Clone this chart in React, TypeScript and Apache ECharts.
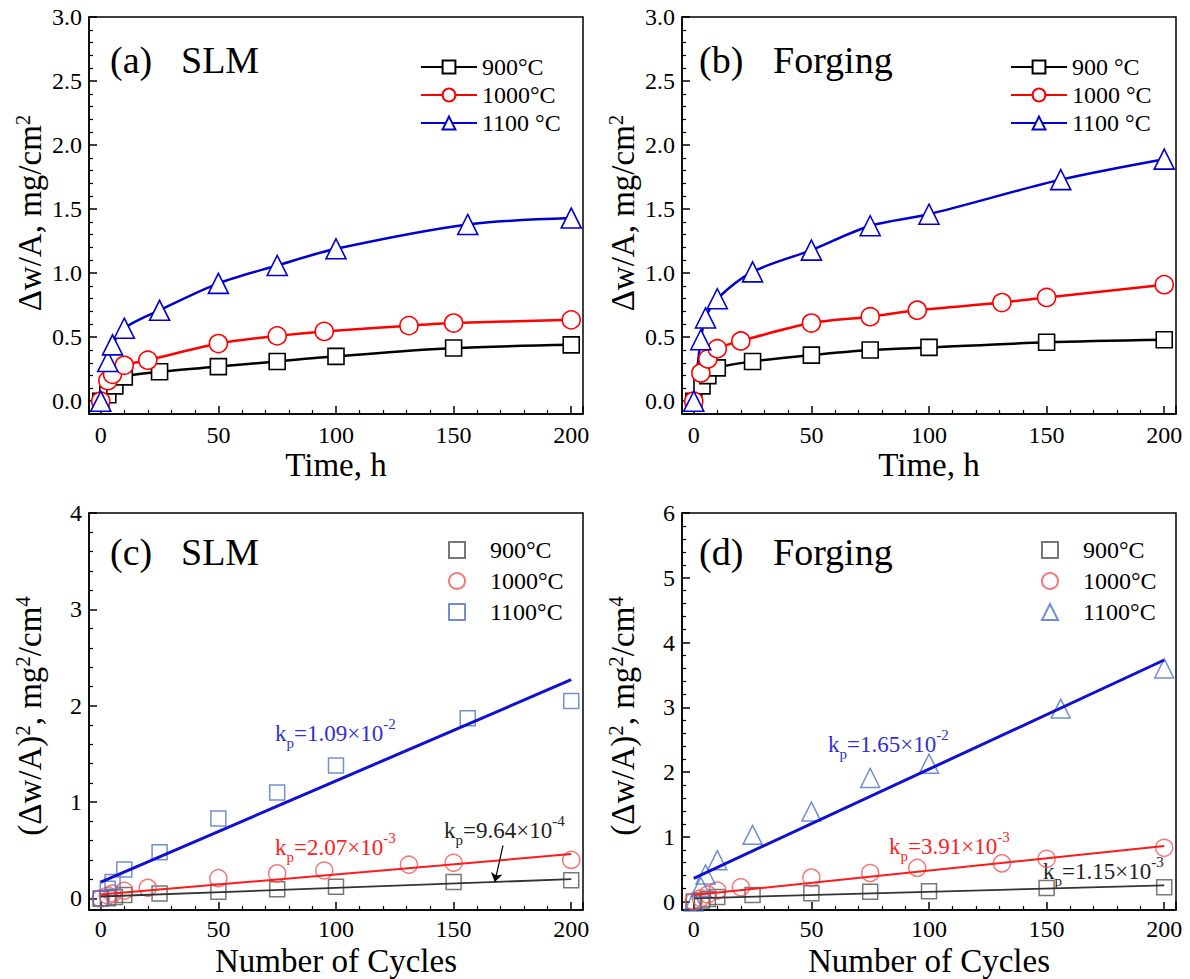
import React, { useEffect, useRef } from 'react';
import * as echarts from 'echarts';

const FONT = 'Liberation Serif, Times New Roman, serif';

// ---------- Panel (a): SLM, isothermal oxidation ----------
const a900T = [0, 3, 6, 10, 25, 50, 75, 100, 150, 200];
const a900V = [0, 0.05, 0.12, 0.19, 0.23, 0.27, 0.31, 0.35, 0.415, 0.44];
const a1000T = [0, 3, 5, 10, 20, 50, 75, 95, 131, 150, 200];
const a1000V = [0, 0.16, 0.21, 0.28, 0.32, 0.45, 0.51, 0.545, 0.59, 0.61, 0.635];
const a1100T = [0, 3, 5, 10, 25, 50, 75, 100, 156, 200];
const a1100V = [0, 0.31, 0.44, 0.57, 0.71, 0.92, 1.06, 1.19, 1.38, 1.43];

// ---------- Panel (b): Forging, isothermal oxidation ----------
const b900T = [0, 3.5, 6, 10, 25, 50, 75, 100, 150, 200];
const b900V = [0, 0.12, 0.2, 0.26, 0.31, 0.36, 0.4, 0.42, 0.46, 0.48];
const b1000T = [0, 3, 6, 10, 20, 50, 75, 95, 131, 150, 200];
const b1000V = [0, 0.22, 0.33, 0.41, 0.47, 0.61, 0.66, 0.71, 0.77, 0.81, 0.91];
const b1100T = [0, 3, 5, 10, 25, 50, 75, 100, 156, 200];
const b1100V = [0, 0.48, 0.65, 0.8, 1.01, 1.18, 1.37, 1.46, 1.73, 1.89];

// ---------- Panel (c): SLM, parabolic plot ----------
const c900T = [0, 3, 6, 10, 25, 50, 75, 100, 150, 200];
const c900V = [0, 0.003, 0.015, 0.035, 0.05, 0.07, 0.095, 0.12, 0.17, 0.19];
const c1000T = [0, 3, 5, 10, 20, 50, 75, 95, 131, 150, 200];
const c1000V = [0, 0.03, 0.05, 0.08, 0.11, 0.21, 0.26, 0.29, 0.35, 0.37, 0.4];
const c1100T = [0, 3, 5, 10, 25, 50, 75, 100, 156, 200];
const c1100V = [0, 0.1, 0.17, 0.3, 0.48, 0.83, 1.1, 1.38, 1.87, 2.05];
const cFitX = [0, 200];
const cFit900 = [0.02, 0.2];
const cFit1000 = [0.04, 0.46];
const cFit1100 = [0.17, 2.27];
const cArrowX = [171, 167.5];
const cArrowY = [0.55, 0.17];

// ---------- Panel (d): Forging, parabolic plot ----------
const d900T = [0, 3.5, 6, 10, 25, 50, 75, 100, 150, 200];
const d900V = [0, 0.015, 0.04, 0.07, 0.1, 0.13, 0.15, 0.16, 0.21, 0.22];
const d1000T = [0, 3, 6, 10, 20, 50, 75, 95, 131, 150, 200];
const d1000V = [0, 0.05, 0.11, 0.17, 0.22, 0.37, 0.44, 0.52, 0.59, 0.66, 0.83];
const d1100T = [0, 3, 5, 10, 25, 50, 75, 100, 156, 200];
const d1100V = [0, 0.23, 0.42, 0.64, 1.03, 1.39, 1.91, 2.13, 2.98, 3.6];
const dFitX = [0, 200];
const dFit900 = [0.05, 0.25];
const dFit1000 = [0.1, 0.86];
const dFit1100 = [0.36, 3.73];

// ---------- Labels ----------
const legendA = { a900: '900°C', a1000: '1000°C', a1100: '1100 °C' };
const legendB = { b900: '900 °C', b1000: '1000 °C', b1100: '1100 °C' };
const legendC = { c900: '900°C', c1000: '1000°C', c1100: '1100°C' };
const legendD = { d900: '900°C', d1000: '1000°C', d1100: '1100°C' };
const kpC = ['9.64×10', '-4', '2.07×10', '-3', '1.09×10', '-2'];
const kpD = ['1.15×10', '-3', '3.91×10', '-3', '1.65×10', '-2'];

const pairs = (xs: number[], ys: number[]) => xs.map((x, i) => [x, ys[i]]);

const GRIDS = [
  { left: 89, top: 17, width: 494, height: 397 },
  { left: 682, top: 17, width: 494, height: 397 },
  { left: 89, top: 513, width: 494, height: 397 },
  { left: 682, top: 513, width: 494, height: 397 },
];

const tickStyle = { color: '#000', width: 1.5 };

function xAxis(gridIndex: number, margin: number) {
  return {
    type: 'value',
    gridIndex,
    min: -5,
    max: 205,
    splitNumber: 4,
    axisLine: { show: true, onZero: false, lineStyle: { color: '#000', width: 1.5 } },
    axisTick: { show: true, inside: true, length: 8, lineStyle: tickStyle },
    minorTick: { show: true, splitNumber: 5, length: 4, lineStyle: { color: '#000', width: 1.2 } },
    splitLine: { show: false },
    axisLabel: {
      fontSize: 24,
      fontFamily: FONT,
      color: '#000',
      lineHeight: 22,
      margin,
      formatter: (v: number) => (Math.abs(v % 50) < 1e-9 ? String(v) : ''),
    },
  };
}

function yAxis(gridIndex: number, min: number, max: number, split: number, dec: number) {
  return {
    type: 'value',
    gridIndex,
    min,
    max,
    splitNumber: split,
    axisLine: { show: true, onZero: false, lineStyle: { color: '#000', width: 1.5 } },
    axisTick: { show: true, inside: true, length: 8, lineStyle: tickStyle },
    minorTick: { show: true, splitNumber: 5, length: 4, lineStyle: { color: '#000', width: 1.2 } },
    splitLine: { show: false },
    axisLabel: {
      fontSize: 24,
      fontFamily: FONT,
      color: '#000',
      margin: 7,
      formatter: (v: number) => (v < -1e-9 ? '' : v.toFixed(dec)),
    },
  };
}

const BLACK = '#000000';
const RED = '#ff0000';
const BLUE = '#0000d0';

function curve(name: string, idx: number, data: number[][], symbol: string, size: number, color: string) {
  return {
    type: 'line',
    name,
    xAxisIndex: idx,
    yAxisIndex: idx,
    data,
    smooth: 0.3,
    symbol,
    symbolSize: size,
    showAllSymbol: true,
    lineStyle: { color, width: 2.5 },
    itemStyle: { color: '#ffffff', borderColor: color, borderWidth: 1.6 },
  };
}

function scatter(name: string, idx: number, data: number[][], symbol: string, size: number, color: string) {
  return {
    type: 'scatter',
    name,
    xAxisIndex: idx,
    yAxisIndex: idx,
    data,
    symbol,
    symbolSize: size,
    itemStyle: { color: 'rgba(255,255,255,0)', borderColor: color, borderWidth: 1.5 },
    z: 3,
  };
}

function fit(idx: number, xs: number[], ys: number[], color: string, width: number, extra: any = {}) {
  return {
    type: 'line',
    xAxisIndex: idx,
    yAxisIndex: idx,
    data: pairs(xs, ys),
    symbol: 'none',
    lineStyle: { color, width },
    z: 4,
    ...extra,
  };
}

function legend(names: Record<string, string>, left: number, top: number, gap: number, lineLegend: boolean) {
  return {
    orient: 'vertical',
    left,
    top,
    itemWidth: lineLegend ? 56 : 16,
    itemHeight: 16,
    itemGap: gap,
    selectedMode: false,
    data: Object.keys(names),
    formatter: (n: string) => names[n],
    textStyle: {
      fontSize: 24,
      fontFamily: FONT,
      color: '#000',
      lineHeight: 24,
      padding: lineLegend ? [0, 0, 0, 0] : [0, 0, 0, 20],
    },
  };
}

function txt(x: number, y: number, text: string, size: number, extra: any = {}) {
  return {
    type: 'text',
    x,
    y,
    silent: true,
    style: {
      text,
      fontSize: size,
      fontFamily: FONT,
      fill: '#000',
      textAlign: 'left',
      align: 'left',
      textVerticalAlign: 'middle',
      verticalAlign: 'middle',
      ...extra,
    },
  };
}

function centered(x: number, y: number, text: string, size: number, rotate: boolean, rich: any = undefined) {
  const el: any = txt(x, y, text, size, { textAlign: 'center', align: 'center', lineHeight: rotate ? 36 : 28 });
  if (rich) el.style.rich = rich;
  if (rotate) el.rotation = Math.PI / 2;
  return el;
}

const supRich = {
  sup: { fontSize: 21, fontFamily: FONT, fill: '#000', verticalAlign: 'top', lineHeight: 22 },
};

function kp(x: number, y: number, mant: string, exp: string, color: string) {
  return {
    type: 'text',
    x,
    y,
    silent: true,
    style: {
      text: 'k{sub|p}=' + mant + '{sup|' + exp + '}',
      fontSize: 23,
      fontFamily: FONT,
      fill: color,
      lineHeight: 34,
      textAlign: 'left',
      align: 'left',
      textVerticalAlign: 'middle',
      verticalAlign: 'middle',
      rich: {
        sub: { fontSize: 15, fontFamily: FONT, fill: color, verticalAlign: 'bottom', lineHeight: 15 },
        sup: { fontSize: 15, fontFamily: FONT, fill: color, verticalAlign: 'top', lineHeight: 15 },
      },
    },
  };
}

export default function App() {
  const ref = useRef<HTMLDivElement>(null);

  useEffect(() => {
    if (!ref.current) return;
    const chart = echarts.init(ref.current, undefined, { renderer: 'svg' });

    const option: any = {
      animation: false,
      backgroundColor: '#ffffff',
      textStyle: { fontFamily: FONT },
      grid: GRIDS.map((g) => ({ ...g, show: true, borderColor: '#000', borderWidth: 1.5, backgroundColor: 'transparent' })),
      xAxis: [xAxis(0, 10), xAxis(1, 10), xAxis(2, 8), xAxis(3, 8)],
      yAxis: [
        yAxis(0, -0.1, 3.0, 6, 1),
        yAxis(1, -0.1, 3.0, 6, 1),
        yAxis(2, -0.12, 4, 4, 0),
        yAxis(3, -0.13, 6, 6, 0),
      ],
      legend: [
        legend(legendA, 415, 50, 4, true),
        legend(legendB, 1005, 50, 4, true),
        legend(legendC, 443, 533, 7, false),
        legend(legendD, 1036, 533, 7, false),
      ],
      series: [
        curve('a900', 0, pairs(a900T, a900V), 'rect', 16, BLACK),
        curve('a1000', 0, pairs(a1000T, a1000V), 'circle', 18, RED),
        curve('a1100', 0, pairs(a1100T, a1100V), 'triangle', 20, BLUE),

        curve('b900', 1, pairs(b900T, b900V), 'rect', 16, BLACK),
        curve('b1000', 1, pairs(b1000T, b1000V), 'circle', 18, RED),
        curve('b1100', 1, pairs(b1100T, b1100V), 'triangle', 20, BLUE),

        scatter('c900', 2, pairs(c900T, c900V), 'rect', 15, '#555555'),
        scatter('c1000', 2, pairs(c1000T, c1000V), 'circle', 17, '#ee5a5a'),
        scatter('c1100', 2, pairs(c1100T, c1100V), 'rect', 15, '#4f72c8'),
        fit(2, cFitX, cFit900, '#333333', 1.8, {
          markLine: {
            silent: true,
            symbol: ['none', 'arrow'],
            symbolSize: 9,
            label: { show: false },
            lineStyle: { color: '#000', width: 1.2, type: 'solid' },
            data: [[{ coord: [cArrowX[0], cArrowY[0]] }, { coord: [cArrowX[1], cArrowY[1]] }]],
          },
        }),
        fit(2, cFitX, cFit1000, '#ff1a1a', 2),
        fit(2, cFitX, cFit1100, '#1010d0', 3),

        scatter('d900', 3, pairs(d900T, d900V), 'rect', 15, '#555555'),
        scatter('d1000', 3, pairs(d1000T, d1000V), 'circle', 17, '#ee5a5a'),
        scatter('d1100', 3, pairs(d1100T, d1100V), 'triangle', 19, '#4f72c8'),
        fit(3, dFitX, dFit900, '#333333', 1.8),
        fit(3, dFitX, dFit1000, '#ff1a1a', 2),
        fit(3, dFitX, dFit1100, '#1010d0', 3),
      ],
      graphic: [
        txt(110, 60, '(a)', 38),
        txt(181, 60, 'SLM', 38),
        txt(699, 60, '(b)', 38),
        txt(773, 60, 'Forging', 38),
        txt(110, 552, '(c)', 38),
        txt(181, 552, 'SLM', 38),
        txt(699, 552, '(d)', 38),
        txt(773, 552, 'Forging', 38),

        centered(336, 465, 'Time, h', 33, false),
        centered(929, 465, 'Time, h', 33, false),
        centered(336, 961, 'Number of Cycles', 33, false),
        centered(929, 961, 'Number of Cycles', 33, false),

        centered(30, 213, 'Δw/A, mg/cm{sup|2}', 33, true, supRich),
        centered(623, 213, 'Δw/A, mg/cm{sup|2}', 33, true, supRich),
        centered(30, 716, '(Δw/A){sup|2}, mg{sup|2}/cm{sup|4}', 33, true, supRich),
        centered(623, 716, '(Δw/A){sup|2}, mg{sup|2}/cm{sup|4}', 33, true, supRich),

        kp(275, 733, kpC[4], kpC[5], '#3030d0'),
        kp(275, 847, kpC[2], kpC[3], '#ff2020'),
        kp(444, 830, kpC[0], kpC[1], '#222222'),
        kp(828, 744, kpD[4], kpD[5], '#3030d0'),
        kp(889, 846, kpD[2], kpD[3], '#ff2020'),
        kp(1043, 871, kpD[0], kpD[1], '#222222'),
      ],
    };

    chart.setOption(option);
    return () => chart.dispose();
  }, []);

  return (
    <div
      ref={ref}
      style={{ position: 'absolute', left: 0, top: 0, width: 1190, height: 979, background: '#fff' }}
    />
  );
}
